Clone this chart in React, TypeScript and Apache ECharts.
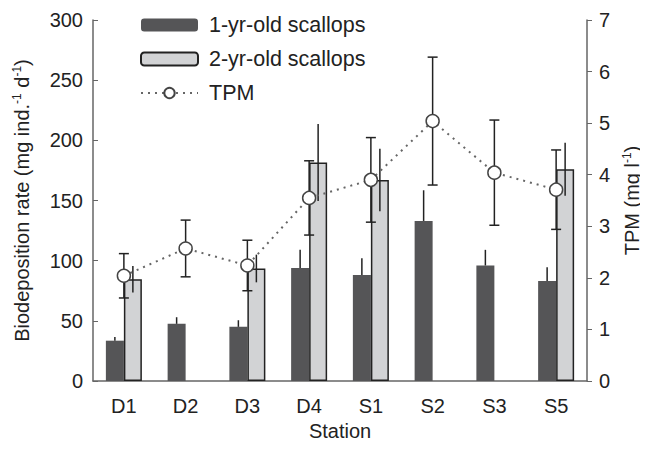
import React, { useEffect, useRef } from "react";
import * as echarts from "echarts";

const stations = ["D1", "D2", "D3", "D4", "S1", "S2", "S3", "S5"];
const oneYr = [33.5, 47.5, 45, 94, 88, 133, 96, 83];
const oneYrErr = [3, 5.5, 5.5, 15, 14, 25.5, 13, 11.5];
const twoYr: (number | null)[] = [84.5, null, 93.5, 181.5, 167, null, null, 176];
const twoYrErr: (number | null)[] = [11, null, 11.5, 32, 26, null, null, 22];
const tpm = [2.04, 2.57, 2.24, 3.55, 3.9, 5.04, 4.04, 3.71];
const tpmErr = [0.43, 0.55, 0.49, 0.72, 0.82, 1.24, 1.02, 0.77];

const FONT = "Liberation Sans, Arial, Helvetica, sans-serif";
const TXT = "#222";
const AX = "#666";
const FS = 20;

function errRender(offset: number, caps: boolean, color: string) {
  return (params: any, api: any) => {
    const i = api.value(0);
    const lo = api.coord([i, api.value(1)]);
    const hi = api.coord([i, api.value(2)]);
    const x = lo[0] + offset;
    const children: any[] = [
      { type: "line", shape: { x1: x, y1: lo[1], x2: x, y2: hi[1] }, style: { stroke: color, lineWidth: 1.5 } },
    ];
    if (caps) {
      children.push({ type: "line", shape: { x1: x - 5, y1: lo[1], x2: x + 5, y2: lo[1] }, style: { stroke: color, lineWidth: 1.5 } });
      children.push({ type: "line", shape: { x1: x - 5, y1: hi[1], x2: x + 5, y2: hi[1] }, style: { stroke: color, lineWidth: 1.5 } });
    }
    return { type: "group", children };
  };
}

export default function App() {
  const ref = useRef<HTMLDivElement>(null);
  useEffect(() => {
    const chart = echarts.init(ref.current!, null, { renderer: "svg" });
    const oneErrData = oneYr.map((v, i) => [i, v, v + oneYrErr[i]]);
    const twoErrData = twoYr
      .map((v, i) => (v == null ? null : [i, v - (twoYrErr[i] as number), v + (twoYrErr[i] as number)]))
      .filter((d) => d != null);
    const tpmErrData = tpm.map((v, i) => [i, v - tpmErr[i], v + tpmErr[i]]);
    const rich = {
      a: { fontSize: FS, color: TXT, fontFamily: FONT },
      s: { fontSize: 12, color: TXT, fontFamily: FONT, padding: [0, 0, 10, 0] },
    };
    chart.setOption({
      animation: false,
      textStyle: { fontFamily: FONT },
      grid: { left: 85, right: 61, top: 12, bottom: 69, containLabel: false, outerBoundsMode: "none" },
      legend: {
        orient: "vertical",
        left: 127,
        top: 1,
        itemWidth: 57,
        itemHeight: 13,
        itemGap: 12,
        textStyle: { fontSize: 21.5, lineHeight: 21, color: TXT, fontFamily: FONT, padding: [0, 0, 0, 6] },
        data: ["1-yr-old scallops", "2-yr-old scallops", "TPM"],
      },
      xAxis: {
        type: "category",
        data: stations,
        name: "Station",
        nameLocation: "middle",
        nameGap: 36,
        nameTextStyle: { fontSize: FS, color: TXT },
        axisLine: { lineStyle: { color: AX, width: 1.5 } },
        axisTick: { inside: true, length: 5, lineStyle: { color: AX } },
        axisLabel: { fontSize: FS, color: TXT, margin: 15 },
      },
      yAxis: [
        {
          type: "value",
          min: 0,
          max: 300,
          interval: 50,
          name: "{a|Biodeposition rate (mg ind.}{s|-1}{a| d}{s|-1}{a|)}",
          nameLocation: "middle",
          nameRotate: 90,
          nameGap: 60,
          nameTextStyle: { rich },
          splitLine: { show: false },
          axisLine: { show: true, lineStyle: { color: AX, width: 1.5 } },
          axisTick: { show: true, inside: true, length: 5, lineStyle: { color: AX } },
          axisLabel: { fontSize: FS, color: TXT, margin: 10 },
        },
        {
          type: "value",
          min: 0,
          max: 7,
          interval: 1,
          position: "right",
          name: "{a|TPM (mg l}{s|-1}{a|)}",
          nameLocation: "middle",
          nameRotate: 90,
          nameGap: 34,
          nameTextStyle: { rich },
          splitLine: { show: false },
          axisLine: { show: true, lineStyle: { color: AX, width: 1.5 } },
          axisTick: { show: true, inside: false, length: 5, lineStyle: { color: AX } },
          axisLabel: { fontSize: FS, color: TXT, margin: 12 },
        },
      ],
      series: [
        {
          name: "1-yr-old scallops",
          type: "bar",
          data: oneYr,
          barWidth: 18,
          barGap: "0%",
          itemStyle: { color: "#555557" },
          z: 2,
        },
        {
          name: "2-yr-old scallops",
          type: "bar",
          data: twoYr,
          barWidth: 18,
          barGap: "0%",
          itemStyle: { color: "#d2d3d5", borderColor: "#222", borderWidth: 1.5 },
          z: 2,
        },
        {
          type: "custom",
          renderItem: errRender(-9, false, "#222"),
          data: oneErrData,
          encode: { x: 0, y: [1, 2] },
          z: 3,
          silent: true,
        },
        {
          type: "custom",
          renderItem: errRender(9, false, "#222"),
          data: twoErrData,
          encode: { x: 0, y: [1, 2] },
          z: 3,
          silent: true,
        },
        {
          type: "custom",
          yAxisIndex: 1,
          renderItem: errRender(0, true, "#222"),
          data: tpmErrData,
          encode: { x: 0, y: [1, 2] },
          z: 4,
          silent: true,
        },
        {
          name: "TPM",
          type: "line",
          yAxisIndex: 1,
          data: tpm,
          symbol: "circle",
          symbolSize: 13,
          showAllSymbol: true,
          lineStyle: { color: "#666", width: 2, type: [2, 5] },
          itemStyle: { color: "#fff", borderColor: "#444", borderWidth: 1.5 },
          z: 5,
        },
      ],
    });
    return () => chart.dispose();
  }, []);
  return <div ref={ref} style={{ width: 640, height: 442 }} />;
}
